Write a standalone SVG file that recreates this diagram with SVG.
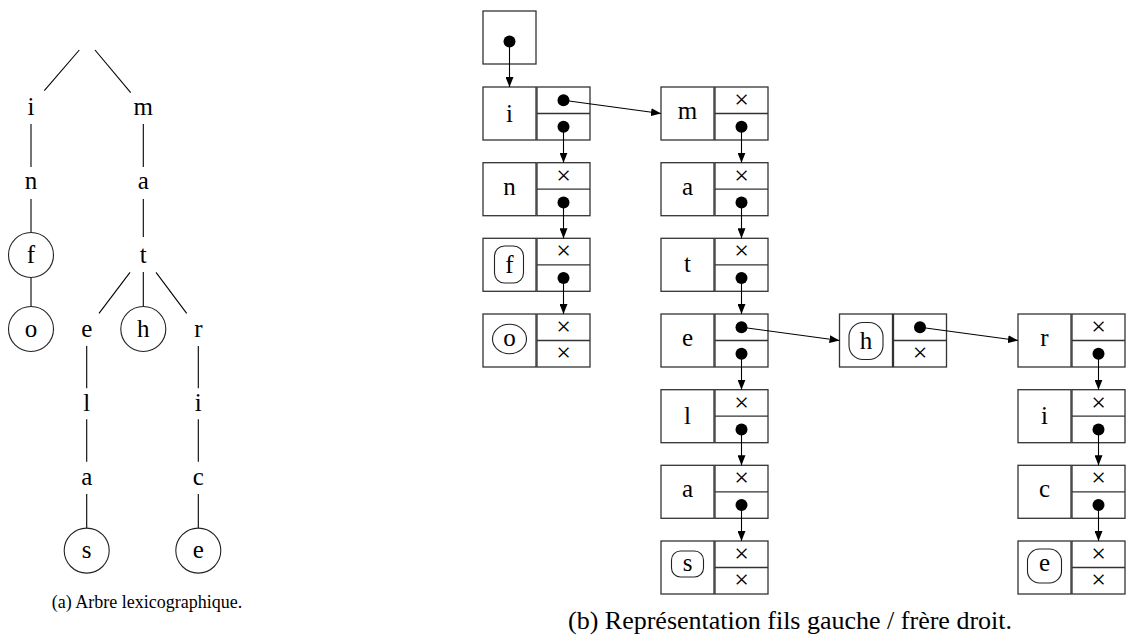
<svg xmlns="http://www.w3.org/2000/svg" width="1127" height="637" viewBox="0 0 1127 637" font-family="Liberation Serif, DejaVu Serif, serif">
  <style>
    text { font-family: 'Liberation Serif', 'DejaVu Serif', serif; fill: #000; text-anchor: middle; }
    .lt { font-size: 25px; }
    .x { font-size: 26px; }
    .capa { font-size: 18px; }
    .capb { font-size: 26px; }
    .edge { stroke: #000; stroke-width: 1.1; fill: none; }
    .box { stroke: #333; stroke-width: 1.3; fill: #fff; }
    .ring { stroke: #222; stroke-width: 1.1; fill: #fff; }
    .dot { fill: #000; }
    .ptr { stroke: #000; stroke-width: 1.1; fill: none; marker-end: url(#ah); }
  </style>
  <defs>
    <marker id="ah" markerWidth="10" markerHeight="8" refX="10" refY="4" orient="auto" markerUnits="userSpaceOnUse">
      <path d="M0,0 L10,4 L0,8 z" fill="#000"/>
    </marker>
  </defs>

  <!-- (a) lexicographic tree -->
  <g id="tree-edges">
    <line class="edge" x1="79.3" y1="50" x2="44.3" y2="90.7"/>
    <line class="edge" x1="95" y1="50" x2="130.7" y2="92.7"/>
    <line class="edge" x1="31" y1="124" x2="31" y2="167"/>
    <line class="edge" x1="31" y1="199" x2="31" y2="232.5"/>
    <line class="edge" x1="31" y1="277.5" x2="31" y2="306.5"/>
    <line class="edge" x1="143.3" y1="124" x2="143.3" y2="167"/>
    <line class="edge" x1="143.3" y1="199" x2="143.3" y2="237"/>
    <line class="edge" x1="130" y1="272.3" x2="99" y2="313.3"/>
    <line class="edge" x1="143.3" y1="272" x2="143.3" y2="306.5"/>
    <line class="edge" x1="156" y1="272.3" x2="186.7" y2="313.3"/>
    <line class="edge" x1="86.7" y1="346" x2="86.7" y2="388.3"/>
    <line class="edge" x1="86.7" y1="419.3" x2="86.7" y2="461.7"/>
    <line class="edge" x1="86.7" y1="494" x2="86.7" y2="528"/>
    <line class="edge" x1="198.3" y1="346" x2="198.3" y2="388.3"/>
    <line class="edge" x1="198.3" y1="419.3" x2="198.3" y2="461.7"/>
    <line class="edge" x1="198.3" y1="494" x2="198.3" y2="528"/>
  </g>
  <g id="tree-i"><text class="lt" x="31" y="115">i</text></g>
  <g id="tree-n"><text class="lt" x="31" y="188.9">n</text></g>
  <g id="tree-f"><circle class="ring" cx="31" cy="255" r="22.5"/><text class="lt" x="31" y="262.8">f</text></g>
  <g id="tree-o"><circle class="ring" cx="31" cy="329" r="22.5"/><text class="lt" x="31" y="336.7">o</text></g>
  <g id="tree-m"><text class="lt" x="143.3" y="115">m</text></g>
  <g id="tree-a1"><text class="lt" x="143.3" y="188.9">a</text></g>
  <g id="tree-t"><text class="lt" x="143.3" y="262.8">t</text></g>
  <g id="tree-h"><circle class="ring" cx="143.3" cy="329" r="22.5"/><text class="lt" x="143.3" y="336.7">h</text></g>
  <g id="tree-e1"><text class="lt" x="86.7" y="336.7">e</text></g>
  <g id="tree-l"><text class="lt" x="86.7" y="410.6">l</text></g>
  <g id="tree-a2"><text class="lt" x="86.7" y="484.5">a</text></g>
  <g id="tree-s"><circle class="ring" cx="86.7" cy="550.6" r="22.5"/><text class="lt" x="86.7" y="558.4">s</text></g>
  <g id="tree-r"><text class="lt" x="198.3" y="336.7">r</text></g>
  <g id="tree-i2"><text class="lt" x="198.3" y="410.6">i</text></g>
  <g id="tree-c"><text class="lt" x="198.3" y="484.5">c</text></g>
  <g id="tree-e2"><circle class="ring" cx="198.3" cy="550.6" r="22.5"/><text class="lt" x="198.3" y="558.4">e</text></g>
  <text class="capa" x="147" y="608">(a) Arbre lexicographique.</text>

  <!-- (b) left-child / right-sibling cells -->
  <g id="root">
    <rect class="box" x="483" y="11" width="53" height="53"/>
    <circle class="dot" cx="509.5" cy="41.5" r="6"/>
  </g>

  <!-- column A -->
  <g id="cell-i">
    <rect class="box" x="483" y="87" width="53" height="53"/>
    <rect class="box" x="537" y="87" width="53" height="53"/>
    <line class="box" x1="537" y1="113.5" x2="590" y2="113.5"/>
    <text class="lt" x="509.5" y="121.7">i</text>
    <circle class="dot" cx="563.5" cy="100.25" r="6"/>
    <circle class="dot" cx="563.5" cy="126.75" r="6"/>
  </g>
  <g id="cell-n">
    <rect class="box" x="483" y="162.7" width="53" height="53"/>
    <rect class="box" x="537" y="162.7" width="53" height="53"/>
    <line class="box" x1="537" y1="189.2" x2="590" y2="189.2"/>
    <text class="lt" x="509.5" y="194.6">n</text>
    <text class="x" x="563.5" y="183.5">×</text>
    <circle class="dot" cx="563.5" cy="202.45" r="6"/>
  </g>
  <g id="cell-f">
    <rect class="box" x="483" y="238.3" width="53" height="53"/>
    <rect class="box" x="537" y="238.3" width="53" height="53"/>
    <line class="box" x1="537" y1="264.8" x2="590" y2="264.8"/>
    <rect class="ring" x="494.5" y="246" width="29" height="37" rx="10"/>
    <text class="lt" x="509.5" y="273">f</text>
    <text class="x" x="563.5" y="259.1">×</text>
    <circle class="dot" cx="563.5" cy="278.05" r="6"/>
  </g>
  <g id="cell-o">
    <rect class="box" x="483" y="314" width="53" height="53"/>
    <rect class="box" x="537" y="314" width="53" height="53"/>
    <line class="box" x1="537" y1="340.5" x2="590" y2="340.5"/>
    <ellipse class="ring" cx="509.5" cy="339" rx="17" ry="14.7"/>
    <text class="lt" x="509.5" y="345.9">o</text>
    <text class="x" x="563.5" y="334.8">×</text>
    <text class="x" x="563.5" y="361.3">×</text>
  </g>

  <!-- column B -->
  <g id="cell-m">
    <rect class="box" x="661" y="87" width="53" height="53"/>
    <rect class="box" x="715" y="87" width="53" height="53"/>
    <line class="box" x1="715" y1="113.5" x2="768" y2="113.5"/>
    <text class="lt" x="687.5" y="118.9">m</text>
    <text class="x" x="741.5" y="107.8">×</text>
    <circle class="dot" cx="741.5" cy="126.75" r="6"/>
  </g>
  <g id="cell-a1">
    <rect class="box" x="661" y="162.7" width="53" height="53"/>
    <rect class="box" x="715" y="162.7" width="53" height="53"/>
    <line class="box" x1="715" y1="189.2" x2="768" y2="189.2"/>
    <text class="lt" x="687.5" y="194.6">a</text>
    <text class="x" x="741.5" y="183.5">×</text>
    <circle class="dot" cx="741.5" cy="202.45" r="6"/>
  </g>
  <g id="cell-t">
    <rect class="box" x="661" y="238.3" width="53" height="53"/>
    <rect class="box" x="715" y="238.3" width="53" height="53"/>
    <line class="box" x1="715" y1="264.8" x2="768" y2="264.8"/>
    <text class="lt" x="687.5" y="271.8">t</text>
    <text class="x" x="741.5" y="259.1">×</text>
    <circle class="dot" cx="741.5" cy="278.05" r="6"/>
  </g>
  <g id="cell-e1">
    <rect class="box" x="661" y="314" width="53" height="53"/>
    <rect class="box" x="715" y="314" width="53" height="53"/>
    <line class="box" x1="715" y1="340.5" x2="768" y2="340.5"/>
    <text class="lt" x="687.5" y="345.9">e</text>
    <circle class="dot" cx="741.5" cy="327.25" r="6"/>
    <circle class="dot" cx="741.5" cy="353.75" r="6"/>
  </g>
  <g id="cell-l">
    <rect class="box" x="661" y="389.7" width="53" height="53"/>
    <rect class="box" x="715" y="389.7" width="53" height="53"/>
    <line class="box" x1="715" y1="416.2" x2="768" y2="416.2"/>
    <text class="lt" x="687.5" y="424.4">l</text>
    <text class="x" x="741.5" y="410.5">×</text>
    <circle class="dot" cx="741.5" cy="429.45" r="6"/>
  </g>
  <g id="cell-a2">
    <rect class="box" x="661" y="465.3" width="53" height="53"/>
    <rect class="box" x="715" y="465.3" width="53" height="53"/>
    <line class="box" x1="715" y1="491.8" x2="768" y2="491.8"/>
    <text class="lt" x="687.5" y="497.2">a</text>
    <text class="x" x="741.5" y="486.1">×</text>
    <circle class="dot" cx="741.5" cy="505.05" r="6"/>
  </g>
  <g id="cell-s">
    <rect class="box" x="661" y="541" width="53" height="53"/>
    <rect class="box" x="715" y="541" width="53" height="53"/>
    <line class="box" x1="715" y1="567.5" x2="768" y2="567.5"/>
    <rect class="ring" x="671.5" y="551" width="32" height="26" rx="9"/>
    <text class="lt" x="687.5" y="570.5">s</text>
    <text class="x" x="741.5" y="561.8">×</text>
    <text class="x" x="741.5" y="588.3">×</text>
  </g>

  <!-- column C -->
  <g id="cell-h">
    <rect class="box" x="839.5" y="314" width="53" height="53"/>
    <rect class="box" x="893.5" y="314" width="53" height="53"/>
    <line class="box" x1="893.5" y1="340.5" x2="946.5" y2="340.5"/>
    <rect class="ring" x="849" y="322.5" width="34" height="37" rx="14"/>
    <text class="lt" x="866" y="349.2">h</text>
    <circle class="dot" cx="920" cy="327.25" r="6"/>
    <text class="x" x="920" y="361.3">×</text>
  </g>

  <!-- column D -->
  <g id="cell-r">
    <rect class="box" x="1018" y="314" width="53" height="53"/>
    <rect class="box" x="1072" y="314" width="53" height="53"/>
    <line class="box" x1="1072" y1="340.5" x2="1125" y2="340.5"/>
    <text class="lt" x="1044.5" y="345.9">r</text>
    <text class="x" x="1098.5" y="334.8">×</text>
    <circle class="dot" cx="1098.5" cy="353.75" r="6"/>
  </g>
  <g id="cell-i2">
    <rect class="box" x="1018" y="389.7" width="53" height="53"/>
    <rect class="box" x="1072" y="389.7" width="53" height="53"/>
    <line class="box" x1="1072" y1="416.2" x2="1125" y2="416.2"/>
    <text class="lt" x="1044.5" y="424.4">i</text>
    <text class="x" x="1098.5" y="410.5">×</text>
    <circle class="dot" cx="1098.5" cy="429.45" r="6"/>
  </g>
  <g id="cell-c">
    <rect class="box" x="1018" y="465.3" width="53" height="53"/>
    <rect class="box" x="1072" y="465.3" width="53" height="53"/>
    <line class="box" x1="1072" y1="491.8" x2="1125" y2="491.8"/>
    <text class="lt" x="1044.5" y="497.2">c</text>
    <text class="x" x="1098.5" y="486.1">×</text>
    <circle class="dot" cx="1098.5" cy="505.05" r="6"/>
  </g>
  <g id="cell-e2">
    <rect class="box" x="1018" y="541" width="53" height="53"/>
    <rect class="box" x="1072" y="541" width="53" height="53"/>
    <line class="box" x1="1072" y1="567.5" x2="1125" y2="567.5"/>
    <rect class="ring" x="1027.5" y="549" width="34" height="34" rx="12"/>
    <text class="lt" x="1044.5" y="571.4">e</text>
    <text class="x" x="1098.5" y="561.8">×</text>
    <text class="x" x="1098.5" y="588.3">×</text>
  </g>

  <!-- pointers -->
  <g id="pointers">
    <line class="ptr" x1="509.5" y1="41.5" x2="509.5" y2="87"/>
    <line class="ptr" x1="563.5" y1="100.25" x2="661" y2="113.5"/>
    <line class="ptr" x1="563.5" y1="126.75" x2="563.5" y2="162.7"/>
    <line class="ptr" x1="563.5" y1="202.45" x2="563.5" y2="238.3"/>
    <line class="ptr" x1="563.5" y1="278.05" x2="563.5" y2="314"/>
    <line class="ptr" x1="741.5" y1="126.75" x2="741.5" y2="162.7"/>
    <line class="ptr" x1="741.5" y1="202.45" x2="741.5" y2="238.3"/>
    <line class="ptr" x1="741.5" y1="278.05" x2="741.5" y2="314"/>
    <line class="ptr" x1="741.5" y1="327.25" x2="839.5" y2="340.5"/>
    <line class="ptr" x1="741.5" y1="353.75" x2="741.5" y2="389.7"/>
    <line class="ptr" x1="741.5" y1="429.45" x2="741.5" y2="465.3"/>
    <line class="ptr" x1="741.5" y1="505.05" x2="741.5" y2="541"/>
    <line class="ptr" x1="920" y1="327.25" x2="1018" y2="340.5"/>
    <line class="ptr" x1="1098.5" y1="353.75" x2="1098.5" y2="389.7"/>
    <line class="ptr" x1="1098.5" y1="429.45" x2="1098.5" y2="465.3"/>
    <line class="ptr" x1="1098.5" y1="505.05" x2="1098.5" y2="541"/>
  </g>

  <text class="capb" x="790" y="629">(b) Représentation fils gauche / frère droit.</text>
</svg>
